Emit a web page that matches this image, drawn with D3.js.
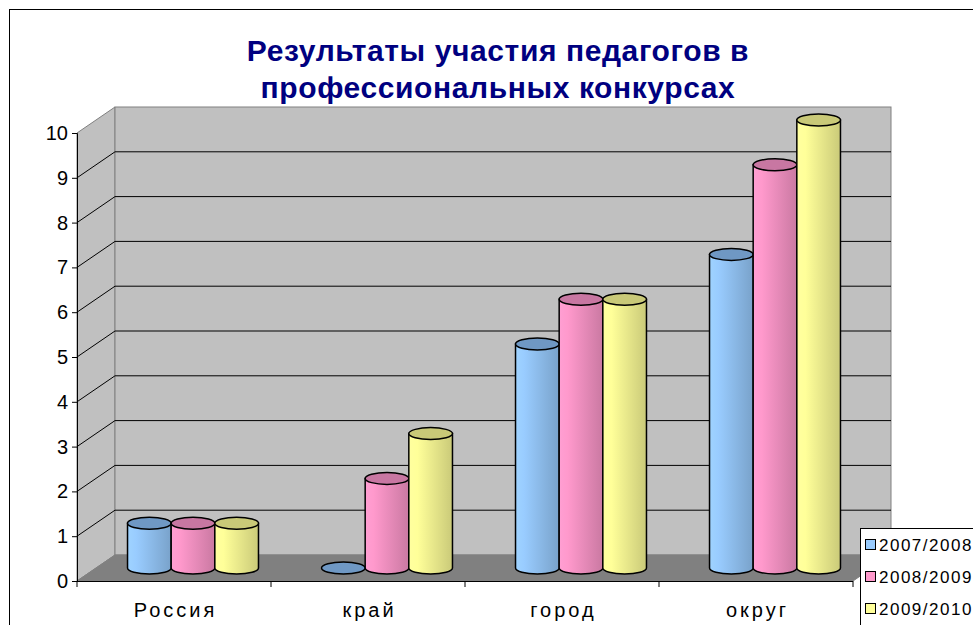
<!DOCTYPE html>
<html>
<head>
<meta charset="utf-8">
<script src="https://cdn.jsdelivr.net/npm/d3@7"></script>
<style>
  body { margin: 0; background: #fff; }
  svg { display: block; font-family: "Liberation Sans", Arial, sans-serif; }
</style>
</head>
<body>
<svg id="chart" width="973" height="625"></svg>
<script>
var categories = ["Россия", "край", "город", "округ"];
var seriesNames = ["2007/2008", "2008/2009", "2009/2010"];
var values2007 = [1, 0, 5, 7];
var values2008 = [1, 2, 6, 9];
var values2009 = [1, 3, 6, 10];
var yTicks = [0, 1, 2, 3, 4, 5, 6, 7, 8, 9, 10];
var titleLines = ["Результаты участия педагогов в", "профессиональных конкурсах"];

var seriesValues = [values2007, values2008, values2009];
var colors = ["#99ccff", "#ff99cc", "#ffff99"];
var topColors = ["#6f98c4", "#c877a2", "#c9c978"];

var svg = d3.select("#chart");

// depth of the 3d box
var dx = 38, dy = -26;

var y = d3.scaleLinear().domain([0, 10]).range([581, 133]);
var x = d3.scaleBand().domain(categories).range([77, 853]).paddingInner(0.325).paddingOuter(0.1625);
var xs = d3.scaleBand().domain(d3.range(seriesNames.length)).range([0, x.bandwidth()]);

var x0 = 77, x1 = 853;

// outer frame
svg.append("rect").attr("x", 9.5).attr("y", 9.5).attr("width", 980).attr("height", 640)
  .attr("fill", "#fff").attr("stroke", "#000").attr("stroke-width", 1);

// title
svg.selectAll(".title").data(titleLines).enter().append("text")
  .attr("class", "title")
  .attr("x", 498).attr("y", function (d, i) { return 61 + i * 37; })
  .attr("text-anchor", "middle")
  .attr("font-size", 30).attr("font-weight", "bold").attr("letter-spacing", 0.6).attr("fill", "#000080")
  .text(function (d) { return d; });

// gradients for cylinders
var defs = svg.append("defs");
colors.forEach(function (c, i) {
  var g = defs.append("linearGradient").attr("id", "grad" + i)
    .attr("x1", "0%").attr("x2", "100%").attr("y1", "0%").attr("y2", "0%");
  var base = d3.color(c);
  g.append("stop").attr("offset", "0%").attr("stop-color", base.brighter(0.1));
  g.append("stop").attr("offset", "20%").attr("stop-color", base);
  g.append("stop").attr("offset", "100%").attr("stop-color", base.darker(0.65));
});

// side wall
svg.append("path")
  .attr("d", "M" + x0 + "," + y(0) + "L" + x0 + "," + y(10) + "L" + (x0 + dx) + "," + (y(10) + dy) +
    "L" + (x0 + dx) + "," + (y(0) + dy) + "Z")
  .attr("fill", "#c0c0c0").attr("stroke", "#808080");

// back wall
svg.append("rect")
  .attr("x", x0 + dx).attr("y", y(10) + dy)
  .attr("width", x1 - x0).attr("height", y(0) - y(10))
  .attr("fill", "#c0c0c0").attr("stroke", "#808080");

// floor
svg.append("path")
  .attr("d", "M" + x0 + "," + y(0) + "L" + (x0 + dx) + "," + (y(0) + dy) + "L" + (x1 + dx) + "," + (y(0) + dy) +
    "L" + x1 + "," + y(0) + "Z")
  .attr("fill", "#808080").attr("stroke", "#808080");

// gridlines
var grid = yTicks.filter(function (t) { return t > 0 && t < 10; });
svg.selectAll(".gridBack").data(grid).enter().append("line")
  .attr("x1", x0 + dx).attr("x2", x1 + dx)
  .attr("y1", function (d) { return y(d) + dy; }).attr("y2", function (d) { return y(d) + dy; })
  .attr("stroke", "#000").attr("stroke-width", 1);
svg.selectAll(".gridSide").data(grid).enter().append("line")
  .attr("x1", x0).attr("x2", x0 + dx)
  .attr("y1", function (d) { return y(d); }).attr("y2", function (d) { return y(d) + dy; })
  .attr("stroke", "#000").attr("stroke-width", 1);

// axes
var yAxis = d3.axisLeft(y).tickValues(yTicks).tickSize(5).tickPadding(4);
var gy = svg.append("g").attr("transform", "translate(" + x0 + ",0)").call(yAxis);
gy.select(".domain").attr("stroke", "#000");
gy.selectAll("text").attr("font-size", 20).attr("fill", "#000")
  .attr("font-family", "Liberation Sans, Arial, sans-serif");

svg.append("line").attr("x1", x0).attr("x2", x1).attr("y1", y(0) + 0.5).attr("y2", y(0) + 0.5)
  .attr("stroke", "#000");
var step = x.step();
svg.selectAll(".xtick").data(d3.range(categories.length + 1)).enter().append("line")
  .attr("x1", function (d) { return x0 + d * step; }).attr("x2", function (d) { return x0 + d * step; })
  .attr("y1", y(0)).attr("y2", y(0) + 6).attr("stroke", "#000");
svg.selectAll(".xlabel").data(categories).enter().append("text")
  .attr("x", function (d) { return x(d) + x.bandwidth() / 2 + 1.5; })
  .attr("y", 617).attr("text-anchor", "middle")
  .attr("font-size", 20).attr("letter-spacing", 3).attr("fill", "#000")
  .text(function (d) { return d; });

// cylinders
var ry = 6;
var bars = [];
categories.forEach(function (c, ci) {
  seriesValues.forEach(function (vals, si) {
    bars.push({ cat: c, s: si, v: vals[ci] });
  });
});
var bar = svg.selectAll(".bar").data(bars).enter().append("g").attr("class", "bar");
function cx(d) { return x(d.cat) + xs(d.s) + xs.bandwidth() / 2 + dx / 2; }
var rx = xs.bandwidth() / 2;
bar.filter(function (d) { return d.v > 0; }).append("path")
  .attr("d", function (d) {
    var c = cx(d), b = y(0) + dy / 2, t = y(d.v) + dy / 2;
    return "M" + (c - rx) + "," + t + "L" + (c - rx) + "," + b +
      "A" + rx + "," + ry + " 0 0 0 " + (c + rx) + "," + b +
      "L" + (c + rx) + "," + t + "Z";
  })
  .attr("fill", function (d) { return "url(#grad" + d.s + ")"; })
  .attr("stroke", "#000").attr("stroke-width", 1.5);
bar.append("ellipse")
  .attr("cx", cx).attr("cy", function (d) { return y(d.v) + dy / 2; })
  .attr("rx", rx).attr("ry", ry)
  .attr("fill", function (d) { return topColors[d.s]; })
  .attr("stroke", "#000").attr("stroke-width", 1.5);

// legend
var lg = svg.append("g").attr("transform", "translate(860,528)");
lg.append("rect").attr("x", 0.5).attr("y", 0.5).attr("width", 130).attr("height", 120)
  .attr("fill", "#fff").attr("stroke", "#000");
var li = lg.selectAll(".li").data(seriesNames).enter().append("g")
  .attr("transform", function (d, i) { return "translate(0," + (17 + i * 32) + ")"; });
li.append("rect").attr("x", 5.5).attr("y", -5.5).attr("width", 10).attr("height", 10)
  .attr("fill", function (d, i) { return colors[i]; }).attr("stroke", "#000");
li.append("text").attr("x", 19).attr("y", 6).attr("font-size", 17).attr("letter-spacing", 1.5)
  .attr("fill", "#000").text(function (d) { return d; });
</script>
</body>
</html>
